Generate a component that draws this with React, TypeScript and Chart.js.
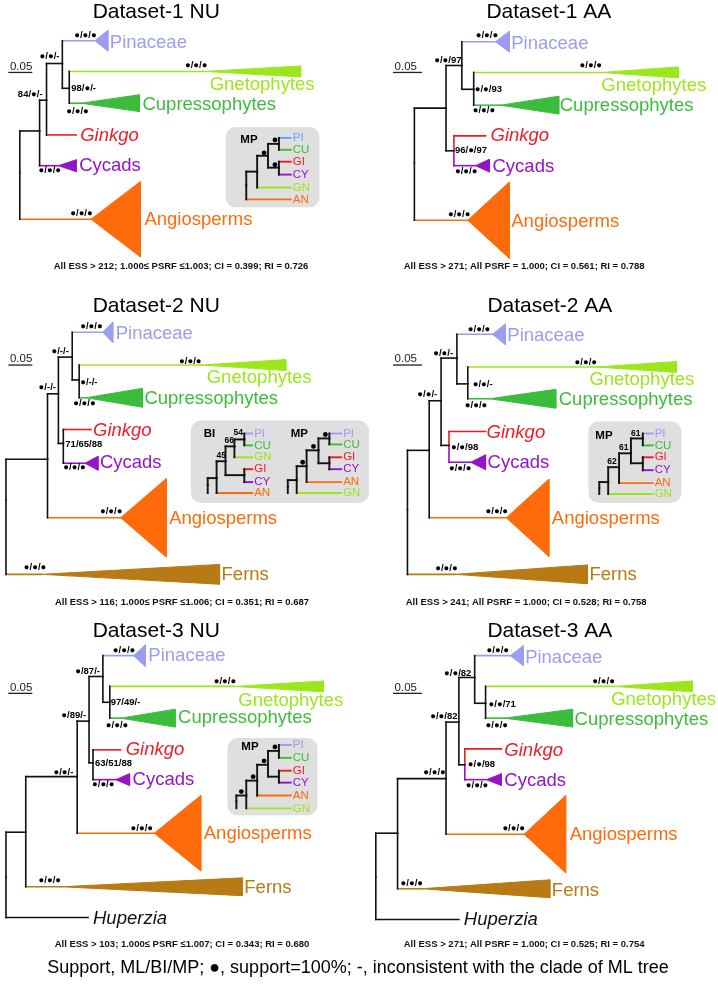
import React, { useEffect, useRef } from 'react';
import { Chart, registerables } from 'chart.js';
Chart.register(...registerables);

const FF = "'Liberation Sans', Arial, 'DejaVu Sans', sans-serif";
const COL: Record<string, string> = {
  k: '#111111', pi: '#9c9cf2', pb: '#6aa2f2', gn: '#9ce61c', cu: '#3cbc3c', gi: '#ec1c24',
  cy: '#9414c8', an: '#ff6a0a', fe: '#b87a14',
};

type Node = [number, number, number, string, number?];
type Clade = [number, number, number];
type Taxon = [string, number, number, string, number?];
type Sup = [string, number, number];

// ---------- Dataset-1 NU ----------
const P1_NODES: Node[] = [
  [16, 170, -1, 'k'], [88, 217, 0, 'an'], [36, 128, 0, 'k'], [55, 163, 2, 'cy'],
  [43, 97, 2, 'k'], [73, 132, 4, 'gi'], [59, 60, 4, 'k'], [92, 37, 6, 'pi'],
  [66, 85, 6, 'k'], [203, 68, 8, 'gn'], [78, 100, 8, 'cu'],
];
const P1_CLADES: Clade[] = [[1, 138, 38], [3, 73, 6], [7, 105, 10.5], [9, 300, 5.5], [10, 137, 8.5]];
const P1_TAXA: Taxon[] = [
  ['Pinaceae', 107, 39, 'pi'], ['Gnetophytes', 208, 82, 'gn'], ['Cupressophytes', 140, 102, 'cu'],
  ['Ginkgo', 77, 133, 'gi', 1], ['Cycads', 76, 163, 'cy'], ['Angiosperms', 142, 218, 'an'],
];
const P1_SUP: Sup[] = [
  ['●/●/●', 71, 32], ['●/●/-', 36, 53], ['84/●/-', 14, 91], ['98/●/-', 68, 85],
  ['●/●/●', 183, 62], ['●/●/●', 63, 108], ['●/●/●', 35, 168], ['●/●/●', 67, 211],
];

// ---------- Dataset-1 AA ----------
const P2_NODES: Node[] = [
  [415, 160, -1, 'k'], [469, 218, 0, 'an'], [447, 105, 0, 'k'], [463, 62, 2, 'k'],
  [497, 38, 3, 'pi'], [475, 86, 3, 'k'], [604, 69, 5, 'gn'], [502, 102, 5, 'cu'],
  [455, 148, 2, 'k'], [487, 133, 8, 'gi', 1], [477, 163, 8, 'cy', 1],
];
const P2_CLADES: Clade[] = [[1, 511, 38.5], [4, 511, 10.5], [6, 682, 5.5], [7, 561, 9], [10, 491, 6.5]];
const P2_TAXA: Taxon[] = [
  ['Pinaceae', 513, 40, 'pi'], ['Gnetophytes', 604, 83, 'gn'], ['Cupressophytes', 562, 103, 'cu'],
  ['Ginkgo', 492, 133, 'gi', 1], ['Cycads', 494, 164, 'cy'], ['Angiosperms', 513, 220, 'an'],
];
const P2_SUP: Sup[] = [
  ['●/●/●', 477, 32], ['●/●/97', 435, 57], ['●/●/●', 582, 62], ['●/●/93', 476, 86],
  ['●/●/●', 474, 107], ['96/●/97', 456, 148], ['●/●/●', 456, 169], ['●/●/●', 449, 212],
];

// ---------- Dataset-2 NU ----------
const P3_NODES: Node[] = [
  [2, 500, -1, 'k'], [38, 575, 0, 'fe'], [44, 459, 0, 'k'], [118, 518, 2, 'an'],
  [55, 393, 2, 'k'], [69, 356, 4, 'k'], [100, 331, 5, 'pi'], [76, 379, 5, 'k'],
  [200, 364, 7, 'gn'], [83, 397, 7, 'cu'], [60, 443, 4, 'k'], [88, 429, 10, 'gi'],
  [82, 463, 10, 'cy'],
];
const P3_CLADES: Clade[] = [[1, 218, 10], [3, 164, 39.5], [6, 110, 10.5], [8, 285, 5.5], [9, 140, 9.5], [12, 95, 7]];
const P3_TAXA: Taxon[] = [
  ['Pinaceae', 113, 333, 'pi'], ['Gnetophytes', 205, 377, 'gn'], ['Cupressophytes', 142, 398, 'cu'],
  ['Ginkgo', 90, 430, 'gi', 1], ['Cycads', 97, 463, 'cy'], ['Angiosperms', 167, 519, 'an'],
  ['Ferns', 220, 576, 'fe'],
];
const P3_SUP: Sup[] = [
  ['●/●/●', 77, 325], ['●/-/-', 48, 350], ['●/-/-', 35, 387], ['●/●/●', 177, 360],
  ['●/-/-', 77, 381], ['●/●/●', 70, 403], ['71/65/88', 62, 444], ['●/●/●', 60, 467],
  ['●/●/●', 97, 512], ['●/●/●', 20, 568],
];

// ---------- Dataset-2 AA ----------
const P4_NODES: Node[] = [
  [408, 510, -1, 'k'], [456, 575, 0, 'fe'], [430, 450, 0, 'k'], [508, 518, 2, 'an'],
  [442, 400, 2, 'k'], [458, 357, 4, 'k'], [494, 333, 5, 'pi'], [469, 383, 5, 'k'],
  [599, 366, 7, 'gn'], [491, 398, 7, 'cu'], [450, 445, 4, 'k'], [487, 431, 10, 'gi', 1],
  [472, 462, 10, 'cy', 1],
];
const P4_CLADES: Clade[] = [[1, 590, 9.5], [3, 551, 39], [6, 507, 10.5], [8, 680, 5.5], [9, 558, 9.5], [12, 487, 7.5]];
const P4_TAXA: Taxon[] = [
  ['Pinaceae', 509, 335, 'pi'], ['Gnetophytes', 592, 379, 'gn'], ['Cupressophytes', 561, 399, 'cu'],
  ['Ginkgo', 488, 432, 'gi', 1], ['Cycads', 489, 463, 'cy'], ['Angiosperms', 554, 519, 'an'],
  ['Ferns', 592, 576, 'fe'],
];
const P4_SUP: Sup[] = [
  ['●/●/●', 469, 328], ['●/●/-', 434, 352], ['●/●/-', 418, 394], ['●/●/●', 577, 361],
  ['●/●/-', 474, 383], ['●/●/●', 466, 405], ['●/●/98', 452, 447], ['●/●/●', 450, 468],
  ['●/●/●', 487, 512], ['●/●/●', 436, 569],
];

// ---------- Dataset-3 NU ----------
const P5_NODES: Node[] = [
  [2, 880, -1, 'k'], [85, 921, 0, 'k'], [22, 835, 0, 'k'], [58, 890, 2, 'fe'],
  [74, 779, 2, 'k'], [152, 836, 4, 'an'], [86, 723, 4, 'k'], [100, 678, 6, 'k'],
  [131, 657, 7, 'pi'], [107, 704, 7, 'k'], [233, 688, 9, 'gn'], [118, 720, 9, 'cu'],
  [90, 765, 6, 'k'], [118, 752, 12, 'gi'], [113, 782, 12, 'cy'],
];
const P5_CLADES: Clade[] = [[3, 241, 9], [5, 199, 38], [8, 143, 11], [10, 323, 5.5], [11, 173, 9], [14, 127, 6]];
const P5_TAXA: Taxon[] = [
  ['Pinaceae', 146, 657, 'pi'], ['Gnetophytes', 237, 703, 'gn'], ['Cupressophytes', 176, 720, 'cu'],
  ['Ginkgo', 123, 752, 'gi', 1], ['Cycads', 130, 782, 'cy'], ['Angiosperms', 202, 837, 'an'],
  ['Ferns', 243, 891, 'fe'], ['Huperzia', 90, 922, 'k', 1],
];
const P5_SUP: Sup[] = [
  ['●/●/●', 110, 652], ['●/87/-', 72, 673], ['97/49/-', 108, 704], ['●/●/●', 212, 683],
  ['●/●/●', 103, 727], ['●/89/-', 58, 717], ['63/51/88', 92, 766], ['●/●/●', 89, 787],
  ['●/●/-', 50, 775], ['●/●/●', 128, 831], ['●/●/●', 35, 884],
];

// ---------- Dataset-3 AA ----------
const P6_NODES: Node[] = [
  [376, 880, -1, 'k'], [460, 923, 0, 'k'], [398, 836, 0, 'k'], [422, 892, 2, 'fe'],
  [447, 781, 2, 'k'], [526, 837, 4, 'an'], [460, 724, 4, 'k'], [476, 679, 6, 'k'],
  [512, 657, 7, 'pi'], [487, 705, 7, 'k'], [617, 688, 9, 'gn'], [506, 720, 9, 'cu'],
  [466, 767, 6, 'k'], [503, 751, 12, 'gi', 1], [488, 782, 12, 'cy', 1],
];
const P6_CLADES: Clade[] = [[3, 552, 9], [5, 568, 39], [8, 525, 10], [10, 696, 5.5], [11, 575, 9], [14, 503, 6]];
const P6_TAXA: Taxon[] = [
  ['Pinaceae', 527, 659, 'pi'], ['Gnetophytes', 614, 702, 'gn'], ['Cupressophytes', 577, 722, 'cu'],
  ['Ginkgo', 506, 753, 'gi', 1], ['Cycads', 506, 783, 'cy'], ['Angiosperms', 572, 838, 'an'],
  ['Ferns', 554, 894, 'fe'], ['Huperzia', 465, 923, 'k', 1],
];
const P6_SUP: Sup[] = [
  ['●/●/●', 488, 652], ['●/●/82', 445, 675], ['●/●/71', 490, 706], ['●/●/●', 595, 683],
  ['●/●/●', 487, 727], ['●/●/82', 431, 718], ['●/●/98', 469, 767], ['●/●/●', 467, 788],
  ['●/●/●', 424, 775], ['●/●/●', 504, 831], ['●/●/●', 401, 887],
];

// ---------- Panel texts ----------
const TITLES: [string, number, number][] = [
  ['Dataset-1 NU', 154, 8], ['Dataset-1 AA', 551, 8], ['Dataset-2 NU', 154, 305],
  ['Dataset-2 AA', 552, 305], ['Dataset-3 NU', 154, 632], ['Dataset-3 AA', 552, 632],
];
const SCALE_BARS: [number, number, number, number][] = [
  [5, 28, 69, 63], [394, 422, 69, 63], [5, 28, 364, 358],
  [394, 422, 364, 358], [5, 28, 695, 689], [394, 422, 695, 689],
];
const FOOTNOTES: [string, number, number, number][] = [
  ['All ESS > 212; 1.000≤ PSRF ≤1.003; CI = 0.399; RI = 0.726', 179, 265, 282],
  ['All ESS > 271; All PSRF = 1.000; CI = 0.561; RI = 0.788', 526, 265, 265],
  ['All ESS > 116; 1.000≤ PSRF ≤1.006; CI = 0.351; RI = 0.687', 180, 603, 283],
  ['All ESS > 241; All PSRF = 1.000; CI = 0.528; RI = 0.758', 528, 603, 262],
  ['All ESS > 103; 1.000≤ PSRF ≤1.007; CI = 0.343; RI = 0.680', 180, 948, 280],
  ['All ESS > 271; All PSRF = 1.000; CI = 0.525; RI = 0.754', 526, 948, 265],
];
const LEGEND_TEXT = 'Support, ML/BI/MP; ●, support=100%; -, inconsistent with the clade of ML tree';

// ---------- Inset trees ----------
const INSET_BOXES: [number, number, number, number][] = [
  [224, 124, 319, 205], [189, 420, 369, 503], [591, 421, 685, 503], [226, 740, 317, 818],
];
const INSET_TAGS: [string, number, number][] = [
  ['MP', 239, 137], ['BI', 202, 433], ['MP', 290, 433], ['MP', 598, 435], ['MP', 240, 749],
];
const I1_NODES: Node[] = [
  [245, 183, -1, 'k'], [290, 197, 0, 'an'], [256, 169, 0, 'k'], [290, 185, 2, 'gn'],
  [267, 153, 2, 'k'], [278, 141, 4, 'k'], [290, 135, 5, 'pb'], [290, 147, 5, 'cu'],
  [278, 165, 4, 'k'], [290, 159, 8, 'gi'], [290, 172, 8, 'cy'],
];
const I2_NODES: Node[] = [
  [206, 485, -1, 'k'], [206, 493, 0, 'k'], [215, 478, 0, 'k'], [251, 493, 2, 'an'],
  [224, 461, 2, 'k'], [233, 446, 4, 'k'], [251, 457, 5, 'gn'], [243, 439, 5, 'k'],
  [251, 433, 7, 'pi'], [251, 445, 7, 'cu'], [243, 475, 4, 'k'], [251, 469, 10, 'gi'],
  [251, 482, 10, 'cy'],
];
const I3_NODES: Node[] = [
  [287, 487, -1, 'k'], [287, 493, 0, 'k'], [296, 480, 0, 'k'], [341, 493, 2, 'gn'],
  [306, 466, 2, 'k'], [341, 482, 4, 'an'], [318, 450, 4, 'k'], [329, 438, 6, 'k'],
  [341, 433, 7, 'pi'], [341, 444, 7, 'cu'], [329, 463, 6, 'k'], [341, 457, 10, 'gi'],
  [341, 469, 10, 'cy'],
];
const I4_NODES: Node[] = [
  [602, 488, -1, 'k'], [602, 494, 0, 'k'], [611, 482, 0, 'k'], [656, 494, 2, 'gn'],
  [622, 467, 2, 'k'], [656, 483, 4, 'an'], [634, 453, 4, 'k'], [646, 438, 6, 'k'],
  [656, 433, 7, 'pi'], [656, 445, 7, 'cu'], [646, 463, 6, 'k'], [656, 457, 10, 'gi'],
  [656, 470, 10, 'cy'],
];
const I5_NODES: Node[] = [
  [235, 804, -1, 'k'], [235, 811, 0, 'k'], [245, 798, 0, 'k'], [290, 811, 2, 'gn'],
  [256, 783, 2, 'k'], [290, 798, 4, 'an'], [267, 767, 4, 'k'], [278, 753, 6, 'k'],
  [290, 747, 7, 'pi'], [290, 760, 7, 'cu'], [278, 779, 6, 'k'], [290, 773, 10, 'gi'],
  [290, 785, 10, 'cy'],
];
const INSET_TIPS: Taxon[] = [
  ['PI', 292, 135, 'pb'], ['CU', 292, 147, 'cu'], ['GI', 292, 159, 'gi'], ['CY', 292, 172, 'cy'], ['GN', 292, 185, 'gn'], ['AN', 292, 197, 'an'],
  ['PI', 253, 433, 'pi'], ['CU', 253, 445, 'cu'], ['GN', 253, 457, 'gn'], ['GI', 253, 469, 'gi'], ['CY', 253, 482, 'cy'], ['AN', 253, 493, 'an'],
  ['PI', 343, 433, 'pi'], ['CU', 343, 444, 'cu'], ['GI', 343, 457, 'gi'], ['CY', 343, 469, 'cy'], ['AN', 343, 482, 'an'], ['GN', 343, 493, 'gn'],
  ['PI', 658, 433, 'pi'], ['CU', 658, 445, 'cu'], ['GI', 658, 457, 'gi'], ['CY', 658, 470, 'cy'], ['AN', 658, 483, 'an'], ['GN', 658, 494, 'gn'],
  ['PI', 292, 747, 'pi'], ['CU', 292, 760, 'cu'], ['GI', 292, 773, 'gi'], ['CY', 292, 785, 'cy'], ['AN', 292, 798, 'an'], ['GN', 292, 811, 'gn'],
];
const INSET_NUMS: [string, number, number][] = [
  ['54', 232, 432], ['66', 223, 440], ['45', 215, 455],
  ['61', 634, 433], ['61', 622, 447], ['62', 610, 461],
];
const INSET_DOTS: [number, number][] = [
  [274, 137], [263, 150], [274, 162],
  [325, 434], [313, 446], [302, 462],
  [240, 794], [252, 779], [263, 763], [274, 749],
];

const PANELS = [
  { nodes: P1_NODES, clades: P1_CLADES, taxa: P1_TAXA, sup: P1_SUP },
  { nodes: P2_NODES, clades: P2_CLADES, taxa: P2_TAXA, sup: P2_SUP },
  { nodes: P3_NODES, clades: P3_CLADES, taxa: P3_TAXA, sup: P3_SUP },
  { nodes: P4_NODES, clades: P4_CLADES, taxa: P4_TAXA, sup: P4_SUP },
  { nodes: P5_NODES, clades: P5_CLADES, taxa: P5_TAXA, sup: P5_SUP },
  { nodes: P6_NODES, clades: P6_CLADES, taxa: P6_TAXA, sup: P6_SUP },
];
const INSETS = [I1_NODES, I2_NODES, I3_NODES, I4_NODES, I5_NODES];

function seg(a: [number, number], b: [number, number], color: string, lw: number) {
  return {
    data: [{ x: a[0], y: a[1] }, { x: b[0], y: b[1] }],
    showLine: true, borderColor: color, borderWidth: lw, pointRadius: 0,
    borderCapStyle: 'square', fill: false,
  };
}

function treeSets(nodes: Node[], lw: number, out: any[]) {
  nodes.forEach((n) => {
    if (n[2] < 0) return;
    const p = nodes[n[2]];
    const c = COL[n[3]];
    if (p[1] !== n[1]) out.push(seg([p[0], p[1]], [p[0], n[1]], n[4] ? c : COL.k, lw));
    if (p[0] !== n[0]) out.push(seg([p[0], n[1]], [n[0], n[1]], c, lw));
  });
}

function buildDatasets() {
  const ds: any[] = [];
  PANELS.forEach((pn) => {
    treeSets(pn.nodes, 1.6, ds);
    pn.clades.forEach(([i, bx, h]) => {
      const n = pn.nodes[i];
      const c = COL[n[3]];
      ds.push({
        data: [{ x: n[0], y: n[1] }, { x: bx, y: n[1] - h }, { x: bx, y: n[1] + h }, { x: n[0], y: n[1] }],
        showLine: true, borderColor: c, backgroundColor: c, borderWidth: 1, pointRadius: 0,
        fill: 'shape', tension: 0,
      });
    });
  });
  INSETS.forEach((ins) => treeSets(ins, 1.9, ds));
  SCALE_BARS.forEach(([x0, x1, y]) => ds.push(seg([x0, y], [x1, y], '#222222', 1.3)));
  ds.push({
    data: INSET_DOTS.map(([x, y]) => ({ x, y })),
    showLine: false, pointRadius: 2.4, backgroundColor: '#000', borderWidth: 0,
  });
  return ds;
}

const decor = {
  id: 'decor',
  beforeDatasetsDraw(chart: any) {
    const { ctx } = chart;
    const X = (v: number) => chart.scales.x.getPixelForValue(v);
    const Y = (v: number) => chart.scales.y.getPixelForValue(v);
    ctx.save();
    ctx.fillStyle = '#dfdfdf';
    INSET_BOXES.forEach(([x0, y0, x1, y1]) => {
      ctx.beginPath();
      ctx.roundRect(X(x0), Y(y0), X(x1) - X(x0), Y(y1) - Y(y0), 10);
      ctx.fill();
    });
    ctx.restore();
  },
  afterDatasetsDraw(chart: any) {
    const { ctx } = chart;
    const X = (v: number) => chart.scales.x.getPixelForValue(v);
    const Y = (v: number) => chart.scales.y.getPixelForValue(v);
    ctx.save();
    ctx.textBaseline = 'middle';
    ctx.textAlign = 'center';
    ctx.fillStyle = '#000';
    ctx.font = `21px ${FF}`;
    TITLES.forEach(([t, x, y]) => ctx.fillText(t, X(x), Y(y)));
    ctx.font = `bold 9.5px ${FF}`;
    ctx.fillStyle = '#111';
    FOOTNOTES.forEach(([t, x, y, w]) => ctx.fillText(t, X(x), Y(y), w));
    ctx.font = `18px ${FF}`;
    ctx.fillStyle = '#000';
    ctx.fillText(LEGEND_TEXT, X(358), Y(972), 622);

    ctx.textAlign = 'left';
    ctx.font = `11.5px ${FF}`;
    ctx.fillStyle = '#222';
    SCALE_BARS.forEach(([x0, , , ty]) => ctx.fillText('0.05', X(x0 + 1), Y(ty)));

    PANELS.forEach((pn) => {
      pn.taxa.forEach(([t, x, y, c, it]) => {
        ctx.font = `${it ? 'italic ' : ''}18.5px ${FF}`;
        ctx.fillStyle = COL[c];
        ctx.fillText(t, X(x), Y(y));
      });
      ctx.font = `bold 9.5px ${FF}`;
      ctx.fillStyle = '#000';
      pn.sup.forEach(([t, x, y]) => ctx.fillText(t, X(x), Y(y)));
    });

    ctx.font = `bold 11.5px ${FF}`;
    ctx.fillStyle = '#000';
    INSET_TAGS.forEach(([t, x, y]) => ctx.fillText(t, X(x), Y(y)));
    ctx.font = `11.5px ${FF}`;
    INSET_TIPS.forEach(([t, x, y, c]) => {
      ctx.fillStyle = COL[c];
      ctx.fillText(t, X(x), Y(y));
    });
    ctx.font = `bold 8.5px ${FF}`;
    ctx.fillStyle = '#000';
    INSET_NUMS.forEach(([t, x, y]) => ctx.fillText(t, X(x), Y(y)));
    ctx.restore();
  },
};

export default function App() {
  const ref = useRef<HTMLCanvasElement>(null);
  useEffect(() => {
    if (!ref.current) return;
    const chart = new Chart(ref.current, {
      type: 'scatter',
      data: { datasets: buildDatasets() },
      options: {
        animation: false,
        responsive: false,
        devicePixelRatio: 1,
        layout: { padding: 0 },
        scales: {
          x: { type: 'linear', min: 0, max: 718, display: false },
          y: { type: 'linear', min: 0, max: 985, reverse: true, display: false },
        },
        plugins: { legend: { display: false }, tooltip: { enabled: false }, title: { display: false } },
      },
      plugins: [decor],
    } as any);
    return () => chart.destroy();
  }, []);
  return (
    <div style={{ position: 'absolute', left: 0, top: 0, width: 718, height: 985, background: '#fff' }}>
      <canvas ref={ref} width={718} height={985} style={{ display: 'block', width: 718, height: 985 }} />
    </div>
  );
}
